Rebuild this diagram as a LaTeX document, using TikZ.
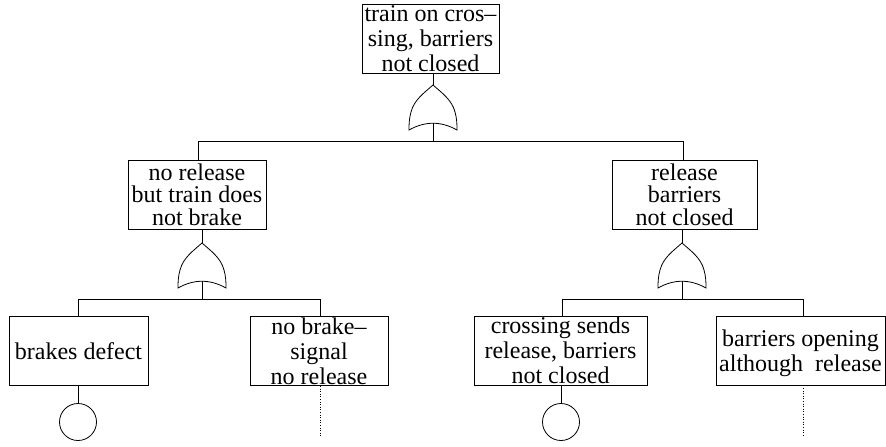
\documentclass[tikz,border=0pt]{standalone}
\usepackage{fontspec}
\setmainfont{Liberation Serif}
\begin{document}
\begin{tikzpicture}[x=1pt,y=-1pt,
  box/.style={draw, rectangle, inner sep=0pt, align=center, minimum height=69pt,
    text depth=0pt, line width=0.8pt, font=\fontsize{24}{25}\selectfont},
  tightbox/.style={box, font=\fontsize{24}{22.5}\selectfont},
  conn/.style={line width=0.8pt},
  leaf/.style={draw, circle, minimum size=37pt, inner sep=0pt, line width=0.8pt},
  undev/.style={dotted, line width=0.6pt},
  orgate/.pic={\draw[line width=0.8pt] (0,0) .. controls (-9,8) and (-19,15) .. (-22,27)
      .. controls (-24,34) and (-24,40) .. (-24,45)
      .. controls (-8,36) and (8,36) .. (24,45)
      .. controls (24,40) and (24,34) .. (22,27)
      .. controls (19,15) and (9,8) .. (0,0) -- cycle;}]
\useasboundingbox (0,0) rectangle (886,447);

% event boxes
\node[box, minimum width=137pt] (top) at (430.5,38.5) {train on cros–\\sing, barriers\\not closed};
\node[tightbox, minimum width=138pt] (lm) at (197,194.5) {no release\\but train does\\not brake};
\node[tightbox, minimum width=145pt] (rm) at (684.5,194.5) {release\\barriers\\not closed};
\node[box, minimum width=139pt] (bd) at (78.5,351) {brakes defect};
\node[box, minimum width=138pt] (nb) at (319,351) {no brake–\\signal\\no release};
\node[box, minimum width=173pt] (cs) at (560.5,350.5) {crossing sends\\release, barriers\\not closed};
\node[box, minimum width=169pt] (bo) at (800.5,350.5) {barriers opening\\although\ \ release};

% basic events
\node[leaf] (c1) at (78,422) {};
\node[leaf] (c2) at (561,422) {};

% gates
\coordinate (g1) at (433,85);  \coordinate (g1b) at (433,123);
\coordinate (g2) at (202,243); \coordinate (g2b) at (202,281);
\coordinate (g3) at (682,243); \coordinate (g3b) at (682,281);
\pic at (g1) {orgate};
\pic at (g2) {orgate};
\pic at (g3) {orgate};

% bars
\coordinate (h1l) at (198,141); \coordinate (h1r) at (683,141);
\coordinate (h2l) at (78,299);  \coordinate (h2r) at (320,299);
\coordinate (h3l) at (562,299); \coordinate (h3r) at (803,299);

\draw[conn] (top.south -| g1) -- (g1);
\draw[conn] (g1b) -- (g1b |- h1l);
\draw[conn] (lm.north -| h1l) -- (h1l) -- (h1r) -- (rm.north -| h1r);

\draw[conn] (lm.south -| g2) -- (g2);
\draw[conn] (g2b) -- (g2b |- h2l);
\draw[conn] (bd.north -| h2l) -- (h2l) -- (h2r) -- (nb.north -| h2r);

\draw[conn] (rm.south -| g3) -- (g3);
\draw[conn] (g3b) -- (g3b |- h3l);
\draw[conn] (cs.north -| h3l) -- (h3l) -- (h3r) -- (bo.north -| h3r);

\draw[conn] (bd.south -| c1) -- (c1.north);
\draw[conn] (cs.south -| c2) -- (c2.north);

\coordinate (u1) at (320,437);
\coordinate (u2) at (803,437);
\draw[undev] (nb.south -| u1) -- (u1);
\draw[undev] (bo.south -| u2) -- (u2);
\end{tikzpicture}
\end{document}
